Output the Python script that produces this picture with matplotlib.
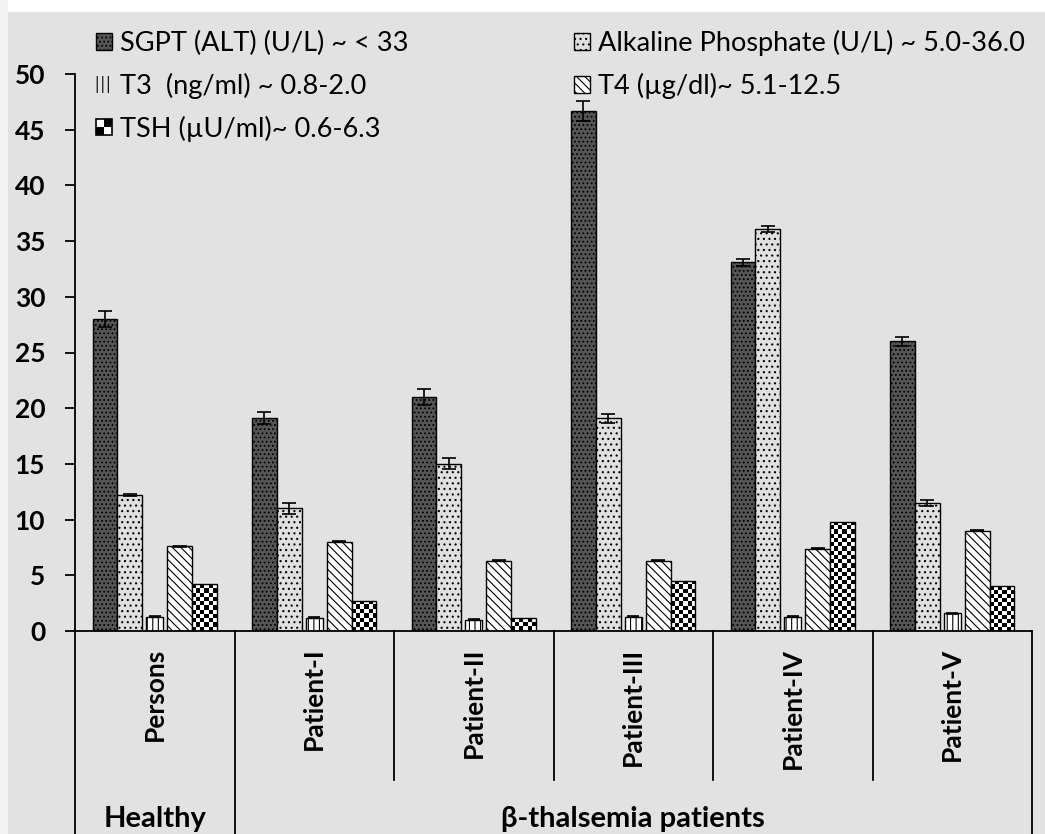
import numpy as np
import matplotlib
matplotlib.use("Agg")
from matplotlib import pyplot as plt
from matplotlib.patches import Patch, Rectangle
from matplotlib.legend_handler import HandlerBase

plt.rcParams['font.family'] = ['Lato', 'DejaVu Sans']
plt.rcParams['hatch.linewidth'] = 0.8

categories = ['Persons', 'Patient-I', 'Patient-II', 'Patient-III',
              'Patient-IV', 'Patient-V']
groups = ['Healthy', 'β-thalsemia patients']
group_centers = [0, 3]
series_labels = ['SGPT (ALT) (U/L) ~ < 33',
                 'Alkaline Phosphate (U/L) ~ 5.0-36.0',
                 'T3  (ng/ml) ~ 0.8-2.0',
                 'T4 (µg/dl)~ 5.1-12.5',
                 'TSH (µU/ml)~ 0.6-6.3']
yticks = [0, 5, 10, 15, 20, 25, 30, 35, 40, 45, 50]

sgpt = [28.0, 19.1, 21.0, 46.7, 33.1, 26.0]
sgpt_err = [0.7, 0.55, 0.7, 0.9, 0.3, 0.4]
alp = [12.2, 11.0, 15.0, 19.1, 36.1, 11.5]
alp_err = [0.1, 0.5, 0.5, 0.4, 0.3, 0.3]
t3 = [1.3, 1.2, 1.0, 1.3, 1.3, 1.6]
t3_err = [0.05, 0.05, 0.05, 0.05, 0.05, 0.05]
t4 = [7.6, 8.0, 6.3, 6.3, 7.4, 9.0]
t4_err = [0.05, 0.05, 0.05, 0.05, 0.05, 0.05]
tsh = [4.2, 2.7, 1.2, 4.5, 9.8, 4.0]

bg = '#e2e2e2'
fig = plt.figure(figsize=(10.45, 8.34), dpi=100, facecolor=bg)
# white scan border on top and left
fig.patches.append(Rectangle((0, 1 - 12 / 834), 1, 12 / 834, transform=fig.transFigure,
                             facecolor='white', edgecolor='none', zorder=0))
fig.patches.append(Rectangle((0, 0), 8 / 1045, 1, transform=fig.transFigure,
                             facecolor='#f4f4f4', edgecolor='none', zorder=0))

ax = fig.add_axes([75 / 1045, 1 - 631 / 834, (1032 - 75) / 1045, (631 - 74) / 834])
ax.set_facecolor(bg)

x = np.arange(len(categories))
w = 0.156
ekw = dict(ecolor='black', elinewidth=1.2, capthick=1.2)

ax.bar(x - 2 * w, sgpt, w, yerr=sgpt_err, capsize=5, color='#555555',
       edgecolor='black', linewidth=1.0, hatch='....', error_kw=ekw, zorder=2)
ax.bar(x - w, alp, w, yerr=alp_err, capsize=5, color='#e0e0e0',
       edgecolor='black', linewidth=1.0, hatch='...', error_kw=ekw, zorder=2)
ax.bar(x, t3, w * 0.7, yerr=t3_err, capsize=4, color='white',
       edgecolor='black', linewidth=1.0, hatch='|||', error_kw=ekw, zorder=2)
ax.bar(x + w, t4, w, yerr=t4_err, capsize=5, color='white',
       edgecolor='black', linewidth=1.0, hatch='\\\\\\\\', error_kw=ekw, zorder=2)
tsh_bars = ax.bar(x + 2 * w, tsh, w, color='white', edgecolor='none', zorder=2)

ax.set_xlim(-0.5, len(categories) - 0.5)
ax.set_ylim(0, 50)

# checkerboard fill for TSH bars
for rect in tsh_bars:
    x0 = rect.get_x()
    x1 = x0 + rect.get_width()
    h = rect.get_height()
    p0 = ax.transData.transform((x0, 0))
    p1 = ax.transData.transform((x1, h))
    ncol = 6
    sq = (p1[0] - p0[0]) / ncol
    nrow = max(1, int(round((p1[1] - p0[1]) / sq)))
    board = np.add.outer(np.arange(nrow), np.arange(ncol)) % 2
    im = ax.imshow(board, cmap='gray', extent=(x0, x1, 0, h), origin='lower',
                   interpolation='nearest', aspect='auto', zorder=2.5)
    im.set_clip_path(rect)
ax.bar(x + 2 * w, tsh, w, fill=False, edgecolor='black', linewidth=1.0, zorder=3)

ax.set_xlim(-0.5, len(categories) - 0.5)
ax.set_ylim(0, 50)
ax.set_aspect('auto')

for s in ['top', 'right']:
    ax.spines[s].set_visible(False)
for s in ['left', 'bottom']:
    ax.spines[s].set_linewidth(1.3)

ax.set_yticks(yticks, labels=[str(t) for t in yticks],
              fontsize=19, fontweight='bold')
ax.tick_params(axis='y', direction='out', length=7.5, width=1.3, pad=14)

ax.set_xticks(x, labels=categories, rotation=90, fontsize=19,
              fontweight='bold', va='top')
ax.tick_params(axis='x', length=0, pad=12)

# category separators below the axis
tr = ax.get_xaxis_transform()
for sep in np.arange(-0.5, len(categories), 1.0):
    bottom = -0.38 if sep in (-0.5, 0.5, len(categories) - 0.5) else -0.2675
    ax.plot([sep, sep], [0, bottom], transform=tr, clip_on=False,
            color='black', linewidth=1.3)

for gx, gname in zip(group_centers, groups):
    ax.text(gx, -0.351, gname, transform=tr, ha='center', va='baseline',
            fontsize=21, fontweight='bold')


class CheckerHandler(HandlerBase):
    def create_artists(self, legend, orig_handle, xdescent, ydescent,
                       width, height, fontsize, trans):
        s = min(width, height)
        x0 = -xdescent
        y0 = -ydescent + (height - s) / 2
        half = s / 2
        return [
            Rectangle((x0, y0), s, s, facecolor='white', edgecolor='black',
                      linewidth=1.2, transform=trans),
            Rectangle((x0 + half, y0 + half), half, half, facecolor='black',
                      linewidth=0, transform=trans),
            Rectangle((x0, y0), half, half, facecolor='black',
                      linewidth=0, transform=trans),
        ]


h_sgpt = Patch(facecolor='#555555', edgecolor='black', hatch='....', linewidth=1)
h_alp = Patch(facecolor='#e0e0e0', edgecolor='black', hatch='...', linewidth=1)
h_t3 = Patch(facecolor='none', edgecolor='black', hatch='|||', linewidth=0)
h_t4 = Patch(facecolor='white', edgecolor='black', hatch='\\\\\\\\', linewidth=1)
h_tsh = Patch(facecolor='white', edgecolor='black')

handles = [h_sgpt, h_t3, h_tsh, h_alp, h_t4]
labels = [series_labels[0], series_labels[2], series_labels[4],
          series_labels[1], series_labels[3]]
fig.legend(handles, labels, ncol=2, loc='upper left',
           bbox_to_anchor=(96 / 1045, 1 - 30 / 834), bbox_transform=fig.transFigure,
           frameon=False, fontsize=19.5, handlelength=0.6, handleheight=0.6,
           handletextpad=0.3, labelspacing=0.62, columnspacing=6.1,
           borderpad=0, borderaxespad=0, handler_map={h_tsh: CheckerHandler()})

fig.savefig('out.png', dpi=100, facecolor=fig.get_facecolor())
